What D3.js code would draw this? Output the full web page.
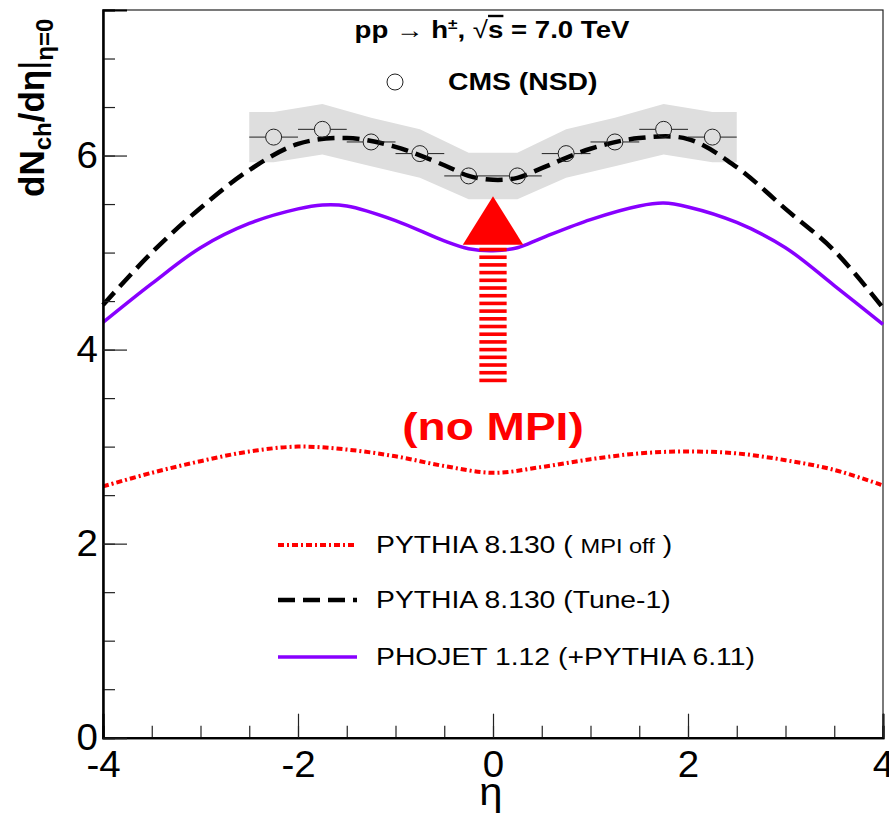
<!DOCTYPE html>
<html>
<head>
<meta charset="utf-8">
<style>
    body, html {
        margin: 0;
        padding: 0;
        background: #fff;
        overflow: hidden;
    }
    text { font-family: "Liberation Sans", Arial, sans-serif; }
</style>
</head>
<body>
<svg width="889" height="816"></svg>
<script src="https://d3js.org/d3.v7.min.js"></script>
<script>
    // CMS NSD points (eta bin centres, values, systematic band half-width)
    var cmsEta = [-2.25, -1.75, -1.25, -0.75, -0.25, 0.25, 0.75, 1.25, 1.75, 2.25];
    var cmsVal = [6.19, 6.27, 6.14, 6.02, 5.79, 5.79, 6.02, 6.14, 6.27, 6.19];
    var cmsSys = [0.26, 0.26, 0.25, 0.25, 0.24, 0.24, 0.25, 0.25, 0.26, 0.26];
    var cmsHalfBin = 0.25;

    // model curves
    var tuneEta = [-4, -3.5, -3, -2.5, -2, -1.5, -1, -0.5, -0.25, 0, 0.25, 0.5, 1, 1.5, 2, 2.5, 3, 3.5, 4];
    var tuneVal = [4.46, 5.0, 5.46, 5.85, 6.12, 6.18, 6.09, 5.9, 5.79, 5.75, 5.77, 5.87, 6.07, 6.18, 6.17, 5.88, 5.45, 5.02, 4.43];

    var phoEta = [-4, -3.5, -3, -2.5, -2, -1.75, -1.5, -1, -0.5, -0.25, 0, 0.25, 0.5, 1, 1.5, 1.75, 2, 2.5, 3, 3.5, 4];
    var phoVal = [4.28, 4.68, 5.05, 5.3, 5.45, 5.49, 5.48, 5.33, 5.12, 5.04, 5.02, 5.05, 5.15, 5.34, 5.48, 5.51, 5.47, 5.31, 5.05, 4.66, 4.26];

    var offEta = [-4, -3.5, -3, -2.5, -2, -1.5, -1, -0.5, 0, 0.5, 1, 1.5, 2, 2.5, 3, 3.5, 4];
    var offVal = [2.59, 2.73, 2.85, 2.95, 3.0, 2.97, 2.9, 2.8, 2.73, 2.79, 2.87, 2.93, 2.95, 2.93, 2.86, 2.76, 2.6];

    var xMajor = [-4, -2, 0, 2, 4];
    var yMajor = [0, 2, 4, 6];

    var svg = d3.select("svg");
    var sx = 1.18; // horizontal stretch of the text in the picture

    var x = d3.scaleLinear().domain([-4, 4]).range([103, 883]);
    var y = d3.scaleLinear().domain([0, 7.5]).range([737.7, 10]);

    // frame
    svg.append("rect")
        .attr("x", 103).attr("y", 10)
        .attr("width", 780).attr("height", 727.7)
        .attr("fill", "none").attr("stroke", "#222").attr("stroke-width", 1.2);

    // systematic band
    var bandEta = [-2.5].concat(cmsEta, [2.5]);
    var bandVal = [cmsVal[0]].concat(cmsVal, [cmsVal[cmsVal.length - 1]]);
    var bandSys = [cmsSys[0]].concat(cmsSys, [cmsSys[cmsSys.length - 1]]);
    svg.append("path")
        .datum(d3.range(bandEta.length))
        .attr("fill", "#dedede")
        .attr("d", d3.area()
            .x(function (i) { return x(bandEta[i]); })
            .y0(function (i) { return y(bandVal[i] - bandSys[i]); })
            .y1(function (i) { return y(bandVal[i] + bandSys[i]); }));

    function curve(etas, vals) {
        return d3.line()
            .x(function (i) { return x(etas[i]); })
            .y(function (i) { return y(vals[i]); })
            .curve(d3.curveCatmullRom.alpha(0.5))(d3.range(etas.length));
    }

    svg.append("path")
        .attr("d", curve(offEta, offVal))
        .attr("fill", "none").attr("stroke", "#ff0000")
        .attr("stroke-width", 4).attr("stroke-dasharray", "6,3,2,3");

    svg.append("path")
        .attr("d", curve(phoEta, phoVal))
        .attr("fill", "none").attr("stroke", "#8800ff")
        .attr("stroke-width", 3.5);

    svg.append("path")
        .attr("d", curve(tuneEta, tuneVal))
        .attr("fill", "none").attr("stroke", "#000")
        .attr("stroke-width", 4.5).attr("stroke-dasharray", "17,8");

    // CMS points: horizontal bars (gap at the marker) and open circles
    var r = 8;
    var pts = svg.append("g");
    cmsEta.forEach(function (e, i) {
        var cx = x(e), cy = y(cmsVal[i]);
        pts.append("line")
            .attr("x1", x(e - cmsHalfBin)).attr("x2", cx - r)
            .attr("y1", cy).attr("y2", cy)
            .attr("stroke", "#222").attr("stroke-width", 1);
        pts.append("line")
            .attr("x1", cx + r).attr("x2", x(e + cmsHalfBin))
            .attr("y1", cy).attr("y2", cy)
            .attr("stroke", "#222").attr("stroke-width", 1);
        pts.append("circle")
            .attr("cx", cx).attr("cy", cy).attr("r", r)
            .attr("fill", "none").attr("stroke", "#222").attr("stroke-width", 1);
    });

    // "no MPI" arrow
    var arrowTip = 5.58, arrowBase = 5.08, arrowHalfW = 0.31;
    var shaftTop = 5.05, shaftBottom = 3.64, shaftHalfW = 0.14;
    svg.append("path")
        .attr("d", "M" + x(0) + "," + y(arrowTip) +
            "L" + x(arrowHalfW) + "," + y(arrowBase) +
            "L" + x(-arrowHalfW) + "," + y(arrowBase) + "Z")
        .attr("fill", "#ff0000");
    var stripeY = d3.range(y(shaftTop), y(shaftBottom), 7.7);
    svg.append("g").selectAll("rect")
        .data(stripeY)
        .enter().append("rect")
        .attr("x", x(-shaftHalfW)).attr("width", x(shaftHalfW) - x(-shaftHalfW))
        .attr("y", function (d) { return d; }).attr("height", 3.6)
        .attr("fill", "#ff0000");

    svg.append("text")
        .attr("transform", "translate(" + x(0) + ",440) scale(" + sx + ",1)")
        .attr("text-anchor", "middle")
        .attr("font-size", 39).attr("font-weight", "bold")
        .attr("fill", "#ff0000")
        .text("(no MPI)");

    // axes
    function minorTicks(lo, hi) {
        return d3.range(lo, hi + 0.001, 0.5);
    }
    var xAxisMinor = d3.axisBottom(x).tickValues(minorTicks(-4, 4)).tickSize(-12).tickFormat("");
    var xAxisMajor = d3.axisBottom(x).tickValues(xMajor).tickSize(-24).tickPadding(13)
        .tickFormat(function (d) { return String(d); });
    var yAxisMinor = d3.axisLeft(y).tickValues(minorTicks(0, 7.5)).tickSize(-12).tickFormat("");
    var yAxisMajor = d3.axisLeft(y).tickValues(yMajor).tickSize(-24).tickPadding(5)
        .tickFormat(function (d) { return String(d); });

    [[xAxisMinor, "x"], [xAxisMajor, "x"], [yAxisMinor, "y"], [yAxisMajor, "y"]].forEach(function (a) {
        var g = svg.append("g")
            .attr("transform", a[1] === "x" ? "translate(0,737.7)" : "translate(103,0)")
            .call(a[0]);
        g.select(".domain").attr("stroke", "#000").attr("stroke-width", 2);
        g.selectAll(".tick line").attr("stroke", "#222").attr("stroke-width", 1.2);
        g.selectAll(".tick text")
            .attr("font-size", 37)
            .attr("font-family", "'Liberation Sans', Arial, sans-serif")
            .attr("fill", "#000")
            .attr("transform", "scale(1.04,1)");
    });

    // axis titles
    svg.append("text")
        .attr("transform", "translate(491,805) scale(1.1,1)")
        .attr("text-anchor", "middle")
        .attr("font-size", 38)
        .text("η");

    var yt = svg.append("text")
        .attr("transform", "translate(44,197) rotate(-90)")
        .attr("font-size", 35).attr("font-weight", "bold");
    yt.append("tspan").text("dN");
    yt.append("tspan").attr("font-size", 24).attr("dy", 7).text("ch");
    yt.append("tspan").attr("dy", -7).text("/d");
    yt.append("tspan").text("η");
    yt.append("tspan").attr("font-weight", "normal").text("|");
    yt.append("tspan").attr("font-size", 24).attr("dy", 9).text("η=0");

    // header
    var hd = svg.append("text")
        .attr("transform", "translate(492,38) scale(1.15,1)")
        .attr("text-anchor", "middle")
        .attr("font-size", 24).attr("font-weight", "bold");
    hd.append("tspan").text("pp ");
    hd.append("tspan").text("→");
    hd.append("tspan").text(" h");
    hd.append("tspan").attr("font-size", 15).attr("dy", -9).text("±");
    hd.append("tspan").attr("dy", 9).text(", ");
    hd.append("tspan").attr("font-weight", "normal").text("√");
    hd.append("tspan").style("text-decoration", "overline").text("s");
    hd.append("tspan").text(" = 7.0 TeV");

    svg.append("circle")
        .attr("cx", 395).attr("cy", 82).attr("r", r)
        .attr("fill", "none").attr("stroke", "#222").attr("stroke-width", 1);
    svg.append("text")
        .attr("transform", "translate(448,90) scale(" + sx + ",1)")
        .attr("font-size", 24).attr("font-weight", "bold")
        .text("CMS (NSD)");

    // legend
    var legY = [545, 600, 657];
    var leg = svg.append("g");
    leg.append("line").attr("x1", 278).attr("x2", 357).attr("y1", legY[0]).attr("y2", legY[0])
        .attr("stroke", "#ff0000").attr("stroke-width", 4).attr("stroke-dasharray", "6,3,2,3");
    leg.append("line").attr("x1", 278).attr("x2", 357).attr("y1", legY[1]).attr("y2", legY[1])
        .attr("stroke", "#000").attr("stroke-width", 4.5).attr("stroke-dasharray", "17,8");
    leg.append("line").attr("x1", 278).attr("x2", 357).attr("y1", legY[2]).attr("y2", legY[2])
        .attr("stroke", "#8800ff").attr("stroke-width", 3.5);

    var t1 = leg.append("text")
        .attr("transform", "translate(376," + (legY[0] + 8) + ") scale(" + sx + ",1)")
        .attr("font-size", 24);
    t1.append("tspan").text("PYTHIA 8.130 ( ");
    t1.append("tspan").attr("font-size", 20).text("MPI off");
    t1.append("tspan").text(" )");
    leg.append("text")
        .attr("transform", "translate(376," + (legY[1] + 8) + ") scale(" + sx + ",1)")
        .attr("font-size", 24)
        .text("PYTHIA 8.130 (Tune-1)");
    leg.append("text")
        .attr("transform", "translate(376," + (legY[2] + 8) + ") scale(" + sx + ",1)")
        .attr("font-size", 24)
        .text("PHOJET 1.12 (+PYTHIA 6.11)");
</script>
</body>
</html>
